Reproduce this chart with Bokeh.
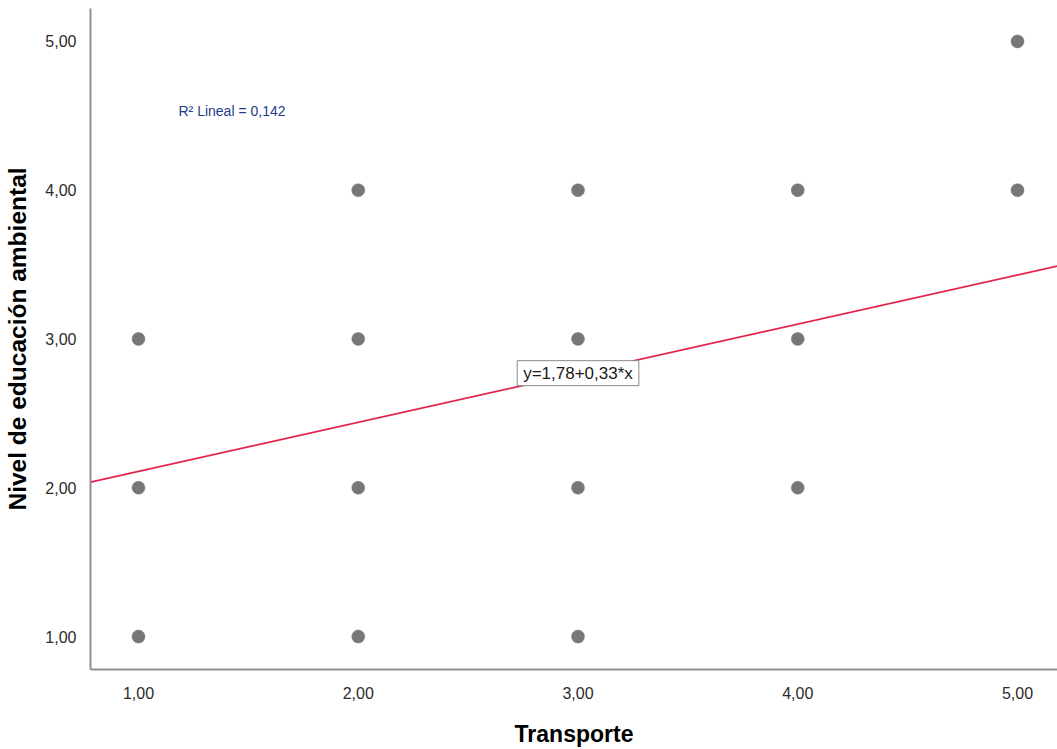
from bokeh.plotting import figure
from bokeh.models import Range1d, FixedTicker, Label, CustomJSTickFormatter
from bokeh.embed import file_html
from bokeh.resources import INLINE

# Data
transporte = [1, 1, 1, 2, 2, 2, 2, 3, 3, 3, 3, 4, 4, 4, 5, 5]
educacion = [3, 2, 1, 4, 3, 2, 1, 4, 3, 2, 1, 4, 3, 2, 5, 4]
intercept = 1.78
slope = 0.33
r2_text = "R² Lineal = 0,142"
eq_text = "y=1,78+0,33*x"
tick_values = [1, 2, 3, 4, 5]

FONT = "Liberation Sans"

p = figure(width=1057, height=749, output_backend="svg", toolbar_location=None,
           x_range=Range1d(0.7816, 5.182), y_range=Range1d(0.7785, 5.221),
           min_border_left=90, min_border_right=0, min_border_top=8, min_border_bottom=79)
p.outline_line_color = None
p.grid.visible = False
p.background_fill_color = "white"
p.border_fill_color = "white"

for ax in (p.xaxis[0], p.yaxis[0]):
    ax.ticker = FixedTicker(ticks=tick_values)
    ax.formatter = CustomJSTickFormatter(code="return tick.toFixed(2).replace('.', ',');")
    ax.major_tick_line_color = None
    ax.minor_tick_line_color = None
    ax.axis_line_color = "#8f8f8f"
    ax.axis_line_width = 2
    ax.major_label_text_font = FONT
    ax.major_label_text_font_size = "16px"
    ax.major_label_text_color = "#2b2b2b"
    ax.axis_label_text_font = FONT
    ax.axis_label_text_font_style = "bold"
    ax.axis_label_text_color = "#000000"

p.xaxis.axis_label = "Transporte"
p.xaxis.axis_label_text_font_size = "23px"
p.xaxis.major_label_standoff = 11
p.xaxis.axis_label_standoff = 19

p.yaxis.axis_label = "Nivel de educación ambiental"
p.yaxis.axis_label_text_font_size = "24.5px"
p.yaxis.major_label_standoff = 8
p.yaxis.axis_label_standoff = 11

# regression line across the whole x range
x0, x1 = p.x_range.start, p.x_range.end
p.line([x0, x1], [intercept + slope * x0, intercept + slope * x1],
       line_color="#e3244a", line_width=1.6)

p.scatter(transporte, educacion, size=13, fill_color="#777777", line_color="#777777",
          line_width=0.5)

p.add_layout(Label(x=1.182, y=4.53, text=r2_text, text_font=FONT, text_font_size="14px",
                   text_color="#1f3b8a", text_align="left", text_baseline="middle"))

p.add_layout(Label(x=3, y=intercept + slope * 3, text=eq_text, text_font=FONT,
                   text_font_size="17px", text_color="#1a1a1a", text_align="center",
                   text_baseline="middle", background_fill_color="white",
                   border_line_color="#8a8a8a", border_line_width=1, padding=(6, 3)))

open("out.html", "w").write(file_html(p, INLINE))
